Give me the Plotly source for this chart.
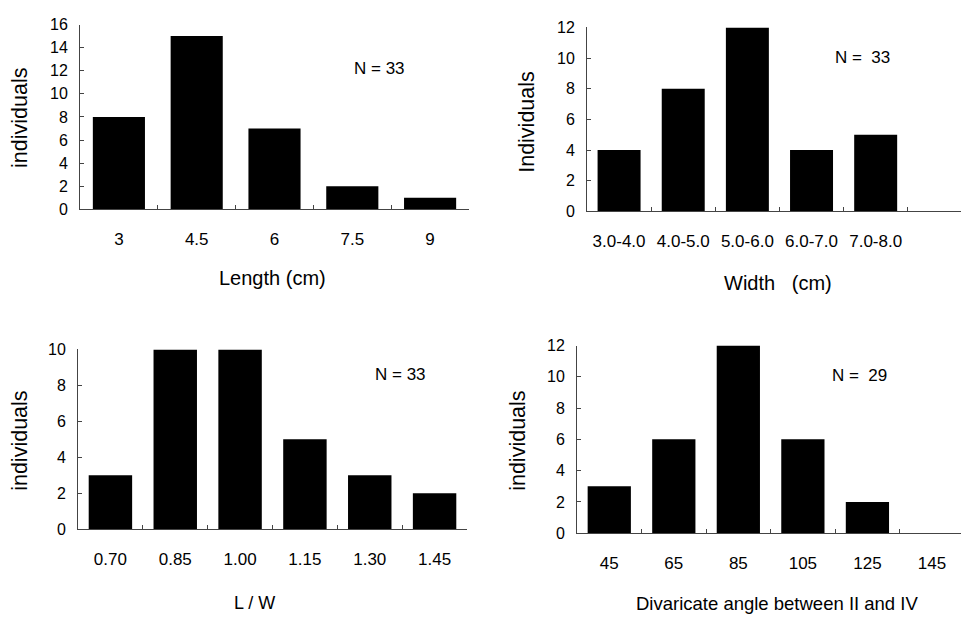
import plotly.graph_objects as go

W, H = 961, 621

# ---- data ----
length_cats = ["3", "4.5", "6", "7.5", "9"]
length_vals = [8, 15, 7, 2, 1]

width_cats = ["3.0-4.0", "4.0-5.0", "5.0-6.0", "6.0-7.0", "7.0-8.0"]
width_vals = [4, 8, 12, 4, 5]

lw_cats = ["0.70", "0.85", "1.00", "1.15", "1.30", "1.45"]
lw_vals = [3, 10, 10, 5, 3, 2]

angle_cats = ["45", "65", "85", "105", "125", "145"]
angle_vals = [3, 6, 12, 6, 2, 0]

FONT = "Liberation Sans, Arial, Helvetica, sans-serif"

def px_x(p):
    return p / W

def px_y(p):
    return 1 - p / H

panels = [
    dict(cats=length_cats, vals=length_vals, x=(80, 469), y=(17, 207), yr=[0, 16], dt=2,
         xr=[-0.5, 4.5], xt="Length (cm)", xts=20, yt="individuals", n="N = 33",
         npos=(379, 62), xtpos=(272, 278), ytpos=(20, 113)),
    dict(cats=width_cats, vals=width_vals, x=(587, 961), y=(20, 209), yr=[0, 12], dt=2,
         xr=[-0.5, 5.33], xt="Width\u00a0\u00a0\u00a0(cm)", xts=20, yt="Individuals", n="N =\u00a0 33",
         npos=(862, 51), xtpos=(778, 283), ytpos=(527, 117)),
    dict(cats=lw_cats, vals=lw_vals, x=(78, 467), y=(351, 536), yr=[0, 10], dt=2,
         xr=[-0.5, 5.5], xt="L / W", xts=18, yt="individuals", n="N = 33",
         npos=(400, 377), xtpos=(255, 612), ytpos=(20, 445)),
    dict(cats=angle_cats, vals=angle_vals, x=(577, 961), y=(347, 540), yr=[0, 12], dt=2,
         xr=[-0.5, 5.45], xt="Divaricate angle between II and IV", xts=18.5, yt="individuals", n="N =\u00a0 29",
         npos=(859, 378), xtpos=(777, 612), ytpos=(518, 445)),
]

fig = go.Figure()
annotations = []
layout = {}
for i, p in enumerate(panels, start=1):
    xa = "x" if i == 1 else f"x{i}"
    ya = "y" if i == 1 else f"y{i}"
    fig.add_trace(go.Bar(
        x=p["cats"], y=p["vals"], xaxis=xa, yaxis=ya,
        marker=dict(color="black", line=dict(width=0)),
        width=0.67, showlegend=False,
    ))
    xkey = "xaxis" if i == 1 else f"xaxis{i}"
    ykey = "yaxis" if i == 1 else f"yaxis{i}"
    layout[xkey] = dict(
        domain=[px_x(p["x"][0]), min(1.0, px_x(p["x"][1]))],
        anchor=ya, type="category", categoryorder="array", categoryarray=p["cats"],
        range=p["xr"], showline=True, linecolor="#444", linewidth=1,
        ticks="inside", ticklen=4, tickcolor="#444", tickson="boundaries",
        showgrid=False, zeroline=False, ticklabelstandoff=14,
        tickfont=dict(family=FONT, size=17, color="black"),
    )
    layout[ykey] = dict(
        domain=[px_y(p["y"][1]), px_y(p["y"][0])],
        anchor=xa, range=p["yr"], dtick=p["dt"], tick0=0,
        showline=True, linecolor="#444", linewidth=1,
        ticks="inside", ticklen=4, tickcolor="#444",
        showgrid=False, zeroline=False, ticklabelstandoff=8,
        tickfont=dict(family=FONT, size=16, color="black"),
    )
    annotations.append(dict(
        text=p["n"], x=px_x(p["npos"][0]), y=px_y(p["npos"][1]),
        xref="paper", yref="paper", showarrow=False,
        xanchor="center", yanchor="middle",
        font=dict(family=FONT, size=17, color="black"),
    ))
    annotations.append(dict(
        text=p["xt"], x=px_x(p["xtpos"][0]), y=px_y(p["xtpos"][1]),
        xref="paper", yref="paper", showarrow=False,
        xanchor="center", yanchor="middle",
        font=dict(family=FONT, size=p["xts"], color="black"),
    ))
    annotations.append(dict(
        text=p["yt"], x=px_x(p["ytpos"][0]), y=px_y(p["ytpos"][1]),
        xref="paper", yref="paper", showarrow=False, textangle=-90,
        xanchor="center", yanchor="middle",
        font=dict(family=FONT, size=21.5, color="black"),
    ))

fig.update_layout(
    width=W, height=H,
    margin=dict(l=0, r=0, t=0, b=0),
    paper_bgcolor="white", plot_bgcolor="white",
    annotations=annotations,
    **layout,
)

fig.write_html(
    "out.html",
    config={"displayModeBar": False},
    post_script="document.body.style.margin='0px';document.body.style.overflow='hidden';",
)
